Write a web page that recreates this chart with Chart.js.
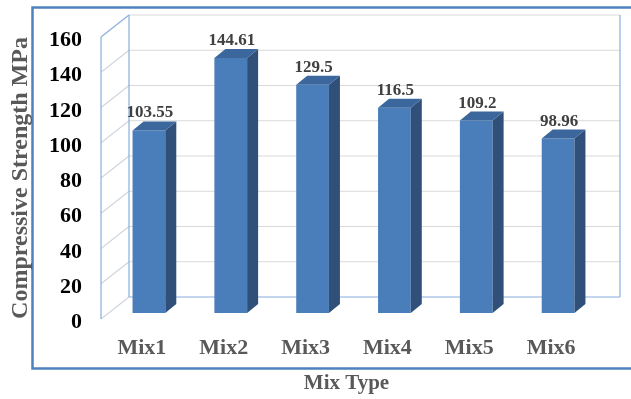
<!DOCTYPE html>
<html>
<head>
<meta charset="utf-8">
<script src="https://cdn.jsdelivr.net/npm/chart.js@4"></script>
<style>
  html, body { margin: 0; padding: 0; background: #ffffff; }
  #wrap { width: 631px; height: 399px; }
</style>
</head>
<body>
<div id="wrap"><canvas id="c" width="631" height="399"></canvas></div>
<script>
// Compressive strength per mix
const categories = ['Mix1', 'Mix2', 'Mix3', 'Mix4', 'Mix5', 'Mix6'];
const strengths = [103.55, 144.61, 129.5, 116.5, 109.2, 98.96];
const yTickValues = [0, 20, 40, 60, 80, 100, 120, 140, 160];

const SERIF = '"Liberation Serif", "Times New Roman", serif';

// Pseudo-3D depth of the box walls and of the bars
const wallDepth = { dx: 28, dy: 22 };
const barShift = { dx: 7, dy: 6 };
const barDepth = { dx: 11, dy: 9 };

const colors = {
  frame: '#4f81bd',
  wallEdge: '#8aaedb',
  grid: '#d9d9d9',
  sideGrid: '#cfd6df',
  front: '#4a7ebb',
  side: '#30507a',
  top: '#3b679d'
};

const box3d = {
  id: 'box3d',
  beforeDraw(chart) {
    const { ctx, chartArea: a, scales: { y } } = chart;
    ctx.save();

    // outer frame
    ctx.strokeStyle = colors.frame;
    ctx.lineWidth = 2.5;
    ctx.beginPath();
    ctx.moveTo(700, 7.5);
    ctx.lineTo(32.5, 7.5);
    ctx.lineTo(32.5, 368.5);
    ctx.lineTo(700, 368.5);
    ctx.stroke();

    const bx0 = a.left + wallDepth.dx, bx1 = a.right + wallDepth.dx;
    ctx.lineWidth = 1.2;

    // back wall grid lines and side wall diagonals
    yTickValues.forEach(v => {
      const py = y.getPixelForValue(v);
      ctx.strokeStyle = v === 0 ? colors.wallEdge : colors.grid;
      ctx.beginPath();
      ctx.moveTo(bx0, py - wallDepth.dy);
      ctx.lineTo(bx1, py - wallDepth.dy);
      ctx.stroke();
      ctx.strokeStyle = (v === 160) ? colors.wallEdge : colors.sideGrid;
      ctx.beginPath();
      ctx.moveTo(a.left, py);
      ctx.lineTo(bx0, py - wallDepth.dy);
      ctx.stroke();
    });

    // wall edges
    const top = y.getPixelForValue(160), bot = y.getPixelForValue(0);
    ctx.strokeStyle = colors.wallEdge;
    ctx.beginPath();
    ctx.moveTo(a.left, top); ctx.lineTo(a.left, bot);
    ctx.moveTo(bx0, top - wallDepth.dy); ctx.lineTo(bx0, bot - wallDepth.dy);
    ctx.moveTo(bx1, top - wallDepth.dy); ctx.lineTo(bx1, bot - wallDepth.dy);
    ctx.stroke();
    ctx.restore();
  },
  beforeDatasetsDraw(chart) {
    chart.ctx.save();
    chart.ctx.translate(barShift.dx, -barShift.dy);
  },
  afterDatasetsDraw(chart) {
    const { ctx } = chart;
    const meta = chart.getDatasetMeta(0);
    meta.data.forEach((el, i) => {
      const { x, y, base, width } = el.getProps(['x', 'y', 'base', 'width'], true);
      const l = x - width / 2, r = x + width / 2;
      // side face
      ctx.fillStyle = colors.side;
      ctx.beginPath();
      ctx.moveTo(r, y);
      ctx.lineTo(r + barDepth.dx, y - barDepth.dy);
      ctx.lineTo(r + barDepth.dx, base - barDepth.dy);
      ctx.lineTo(r, base);
      ctx.closePath();
      ctx.fill();
      // top face
      ctx.fillStyle = colors.top;
      ctx.beginPath();
      ctx.moveTo(l, y);
      ctx.lineTo(l + barDepth.dx, y - barDepth.dy);
      ctx.lineTo(r + barDepth.dx, y - barDepth.dy);
      ctx.lineTo(r, y);
      ctx.closePath();
      ctx.fill();
      // value label
      ctx.fillStyle = '#404040';
      ctx.font = 'bold 17px ' + SERIF;
      ctx.textAlign = 'center';
      ctx.textBaseline = 'alphabetic';
      ctx.fillText(String(strengths[i]), x + 1, y - 13);
    });
    ctx.restore();
  }
};

new Chart(document.getElementById('c'), {
  type: 'bar',
  data: {
    labels: categories,
    datasets: [{
      data: strengths,
      backgroundColor: colors.front,
      borderWidth: 0,
      barPercentage: 0.40,
      categoryPercentage: 1.0
    }]
  },
  options: {
    responsive: false,
    animation: false,
    events: [],
    layout: { padding: { left: 0, top: 37, right: 39, bottom: 0 } },
    plugins: { legend: { display: false }, tooltip: { enabled: false } },
    scales: {
      x: {
        grid: { display: false, drawTicks: false },
        border: { display: false },
        ticks: {
          color: '#595959',
          padding: 16,
          font: { family: SERIF, size: 22, weight: 'bold' }
        },
        title: {
          display: true,
          text: 'Mix Type',
          color: '#595959',
          padding: { top: 0, bottom: 3 },
          font: { family: SERIF, size: 21, weight: 'bold' }
        },
        afterFit(s) { s.height = 80; }
      },
      y: {
        min: 0,
        max: 160,
        grid: { display: false, drawTicks: false },
        border: { display: false },
        ticks: {
          stepSize: 20,
          color: '#000000',
          padding: 19,
          // an empty first line nudges each label a little below its value line
          callback: v => ['', String(v)],
          font: { family: SERIF, size: 22, weight: 'bold', lineHeight: '7px' }
        },
        title: {
          display: true,
          text: 'Compressive Strength MPa',
          color: '#595959',
          padding: { top: 6, bottom: 0 },
          font: { family: SERIF, size: 24, weight: 'bold' }
        },
        afterFit(s) { s.width = 101; }
      }
    }
  },
  plugins: [box3d]
});
</script>
</body>
</html>
